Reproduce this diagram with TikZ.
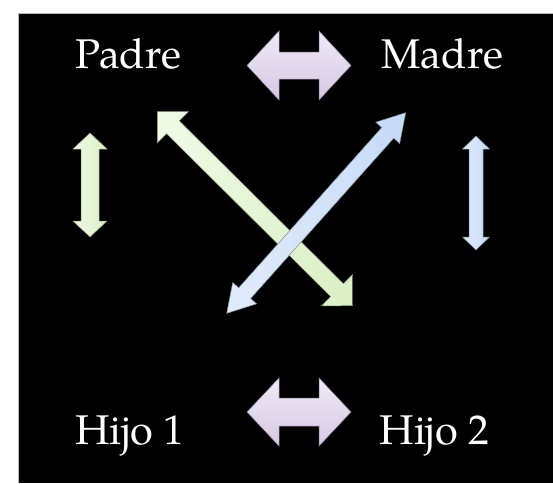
\documentclass[tikz,border=0pt]{standalone}
\usepackage{fontspec}
\setmainfont{texgyrepagella-regular.otf}
\usetikzlibrary{calc}
\definecolor{purpT}{HTML}{EFEAF5}
\definecolor{purpB}{HTML}{D6C8E5}
\definecolor{purpE}{HTML}{8C8096}
\definecolor{grnL}{HTML}{F0FAE6}
\definecolor{grnR}{HTML}{D9F0C4}
\definecolor{grnE}{HTML}{8A9A7C}
\definecolor{bluL}{HTML}{E0ECFB}
\definecolor{bluR}{HTML}{C6DAF6}
\definecolor{bluE}{HTML}{7F8CA0}
\tikzset{
  lbl/.style={anchor=base west, inner sep=0pt, text=white, font=\fontsize{41.5}{44}\selectfont},
  arrP/.style={draw=purpE, line width=0.5pt, top color=purpT, bottom color=purpB},
  arrG/.style={draw=grnE, line width=0.5pt, left color=grnL, right color=grnR},
  arrB/.style={draw=bluE, line width=0.5pt, left color=bluL, right color=bluR},
}
\newcommand{\dblarr}[6]{%
  \coordinate (q1) at ($(#1)!#3!(#2)$);
  \coordinate (q2) at ($(#2)!#3!(#1)$);
  \path[#6] (#1) -- ($(q1)!#4!90:(#2)$) -- ($(q1)!#5!90:(#2)$)
    -- ($(q2)!#5!-90:(#1)$) -- ($(q2)!#4!-90:(#1)$) -- (#2)
    -- ($(q2)!#4!90:(#1)$) -- ($(q2)!#5!90:(#1)$)
    -- ($(q1)!#5!-90:(#2)$) -- ($(q1)!#4!-90:(#2)$) -- cycle;}
\begin{document}
\begin{tikzpicture}[x=1pt,y=-1pt]
\useasboundingbox (0,0) rectangle (553,483);
\fill[white] (0,0) rectangle (553,483);
\fill[black] (18,13) rectangle (553,483);
\draw[gray!55, line width=0.6pt] (18,483) -- (18,13) -- (553,13);

% labels
\node[lbl] (padre) at (75.5,68.3) {Padre};
\node[lbl] (madre) at (381.5,68.3) {Madre};
\node[lbl] (hijo1) at (75,444) {Hijo 1};
\node[lbl] (hijo2) at (379.5,444) {Hijo 2};

% arrow end points
\coordinate (tA) at (247,65.5);  \coordinate (tB) at (351,65.5);
\coordinate (bA) at (247,412);   \coordinate (bB) at (351,412);
\coordinate (lA) at (90,133);    \coordinate (lB) at (90,237);
\coordinate (rA) at (476,136);   \coordinate (rB) at (476,250);
\coordinate (gA) at (157.3,111.7); \coordinate (gB) at (352.7,305.7);
\coordinate (cA) at (226.7,313.3); \coordinate (cB) at (405.7,112.7);

\dblarr{tA}{tB}{32pt}{34.5pt}{13.5pt}{arrP}
\dblarr{bA}{bB}{32pt}{34pt}{14pt}{arrP}
\dblarr{lA}{lB}{16pt}{17pt}{9pt}{arrG}
\dblarr{rA}{rB}{13pt}{13.5pt}{7pt}{arrB}
\dblarr{gA}{gB}{22pt}{22pt}{9pt}{arrG}
\dblarr{cA}{cB}{27pt}{16pt}{8pt}{arrB}
\end{tikzpicture}
\end{document}
